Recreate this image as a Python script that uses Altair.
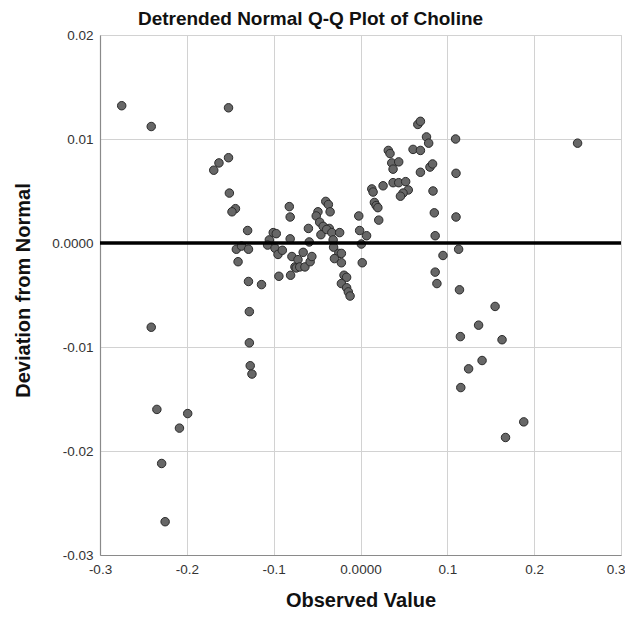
import altair as alt
import pandas as pd

obs = [
    -0.275, -0.241, -0.152, -0.152, -0.163, -0.169, -0.151, -0.144, -0.148, -0.130,
    -0.143, -0.137, -0.129, -0.141, -0.129, -0.114, -0.128, -0.128, -0.127, -0.125,
    -0.241, -0.2345, -0.199, -0.2085, -0.229, -0.225,
    -0.1005, -0.097, -0.105, -0.107, -0.0985, -0.095, -0.090, -0.094,
    -0.082, -0.081, -0.081, -0.079, -0.0805, -0.0755, -0.072, -0.066, -0.074, -0.070,
    -0.064, -0.058, -0.056, -0.059, -0.060, -0.049, -0.051, -0.047, -0.043, -0.0456,
    -0.040, -0.037, -0.035, -0.036, -0.039, -0.033, -0.024, -0.0315, -0.031, -0.025,
    -0.022, -0.030, -0.022, -0.019, -0.016, -0.022, -0.016, -0.014, -0.012,
    -0.002, -0.001, 0.007, 0.001, 0.002,
    0.013, 0.0145, 0.026, 0.016, 0.018, 0.020, 0.021,
    0.032, 0.034, 0.036, 0.0375, 0.044, 0.0375, 0.044, 0.052, 0.055, 0.049, 0.046,
    0.0605, 0.069, 0.066, 0.069, 0.076, 0.0785, 0.069, 0.080, 0.083, 0.0835, 0.085,
    0.086, 0.095, 0.086, 0.088,
    0.1095, 0.110, 0.110, 0.113, 0.114,
    0.155, 0.136, 0.115, 0.163, 0.140, 0.1245, 0.1155, 0.188, 0.167, 0.250,
]
dev = [
    0.0132, 0.0112, 0.0130, 0.0082, 0.0077, 0.0070, 0.0048, 0.0033, 0.0030, 0.0012,
    -0.0006, -0.0003, -0.0006, -0.0018, -0.0037, -0.0040, -0.0066, -0.0096, -0.0118, -0.0126,
    -0.0081, -0.0160, -0.0164, -0.0178, -0.0212, -0.0268,
    0.0010, 0.0009, 0.0003, -0.0002, -0.0005, -0.0011, -0.0007, -0.0032,
    0.0035, 0.0025, 0.0004, -0.0013, -0.0031, -0.0023, -0.0016, -0.0009, -0.0024, -0.0023,
    -0.0023, -0.0018, -0.0013, 0.0001, 0.0014, 0.0030, 0.0026, 0.0020, 0.0016, 0.0008,
    0.0040, 0.0037, 0.0030, 0.0014, 0.0013, 0.0010, 0.0010, 0.0003, -0.0004, -0.0010,
    -0.0010, -0.0015, -0.0019, -0.0031, -0.0033, -0.0039, -0.0043, -0.0047, -0.0051,
    0.0026, 0.0012, 0.0007, -0.0001, -0.0019,
    0.0052, 0.0049, 0.0055, 0.0039, 0.0036, 0.0034, 0.0022,
    0.0089, 0.0086, 0.0077, 0.0071, 0.0078, 0.0058, 0.0058, 0.0059, 0.0051, 0.0048, 0.0045,
    0.0090, 0.0089, 0.0114, 0.0117, 0.0102, 0.0096, 0.0068, 0.0073, 0.0076, 0.0050, 0.0029,
    0.0007, -0.0012, -0.0028, -0.0039,
    0.0100, 0.0067, 0.0025, -0.0006, -0.0045,
    -0.0061, -0.0079, -0.0090, -0.0093, -0.0113, -0.0121, -0.0139, -0.0172, -0.0187, 0.0096,
]

x_ticks = [-0.3, -0.2, -0.1, 0.0, 0.1, 0.2, 0.3]
x_tick_labels = ["-0.3", "-0.2", "-0.1", "0.0000", "0.1", "0.2", "0.3"]
y_ticks = [-0.03, -0.02, -0.01, 0.0, 0.01, 0.02]
y_tick_labels = ["-0.03", "-0.02", "-0.01", "0.0000", "0.01", "0.02"]
reference = [0.0]


def label_expr(values, labels):
    expr = "''"
    for v, lab in reversed(list(zip(values, labels))):
        expr = f"abs(datum.value - ({v})) < 1e-9 ? '{lab}' : ({expr})"
    return expr


df = pd.DataFrame({"obs": obs, "dev": dev})
ref_df = pd.DataFrame({"z": reference})

FONT = "Liberation Sans"

x_enc = alt.X(
    "obs:Q",
    scale=alt.Scale(domain=[-0.3, 0.3], nice=False, zero=False),
    axis=alt.Axis(
        values=x_ticks,
        labelExpr=label_expr(x_ticks, x_tick_labels),
        grid=True,
        ticks=False,
        labelFontSize=13.5,
        labelColor="#333333",
        labelPadding=7,
        labelFlush=False,
        labelAlign=alt.condition("datum.value > 0.25", alt.value("right"), alt.value("center")),
        labelOffset=alt.condition("datum.value > 0.25", alt.value(4), alt.value(0)),
        title="Observed Value",
        titleFontSize=20,
        titleFontWeight="bold",
        titleColor="#111111",
        titleY=51,
        titleBaseline="alphabetic",
    ),
)
y_enc = alt.Y(
    "dev:Q",
    scale=alt.Scale(domain=[-0.03, 0.02], nice=False, zero=False),
    axis=alt.Axis(
        values=y_ticks,
        labelExpr=label_expr(y_ticks, y_tick_labels),
        grid=True,
        ticks=False,
        labelFontSize=13.5,
        labelColor="#333333",
        labelPadding=7,
        labelFlush=False,
        title="Deviation from Normal",
        titleFontSize=20,
        titleFontWeight="bold",
        titleColor="#111111",
        titleX=-77,
        titleY=255,
        titleAngle=270,
        titleAlign="center",
        titleBaseline="middle",
    ),
)

points = alt.Chart(df).mark_circle(
    size=72, color="#676767", stroke="#2b2b2b", strokeWidth=1, opacity=1
).encode(x=x_enc, y=y_enc)

zero_line = alt.Chart(ref_df).mark_rule(color="#000000", strokeWidth=3.5).encode(
    y=alt.Y("z:Q")
)

chart = (
    alt.layer(points, zero_line)
    .properties(
        width=521,
        height=520,
        autosize=alt.AutoSizeParams(type="none"),
        padding={"left": 92, "top": 27, "right": 4, "bottom": 55},
        title=alt.TitleParams(
            "Detrended Normal Q-Q Plot of Choline",
            fontSize=19,
            fontWeight="bold",
            font=FONT,
            color="#111111",
            anchor="middle",
            frame="group",
            dx=-50,
            dy=2,
            offset=1,
        ),
    )
    .configure(font=FONT)
    .configure_axis(
        gridColor="#d2d2d2",
        gridWidth=1,
        domainColor="#8a8a8a",
        domainWidth=1.2,
        labelFont=FONT,
        titleFont=FONT,
    )
    .configure_view(stroke="#d2d2d2", strokeWidth=1)
)

chart.save("out.html", embed_options={"renderer": "svg", "actions": False})
